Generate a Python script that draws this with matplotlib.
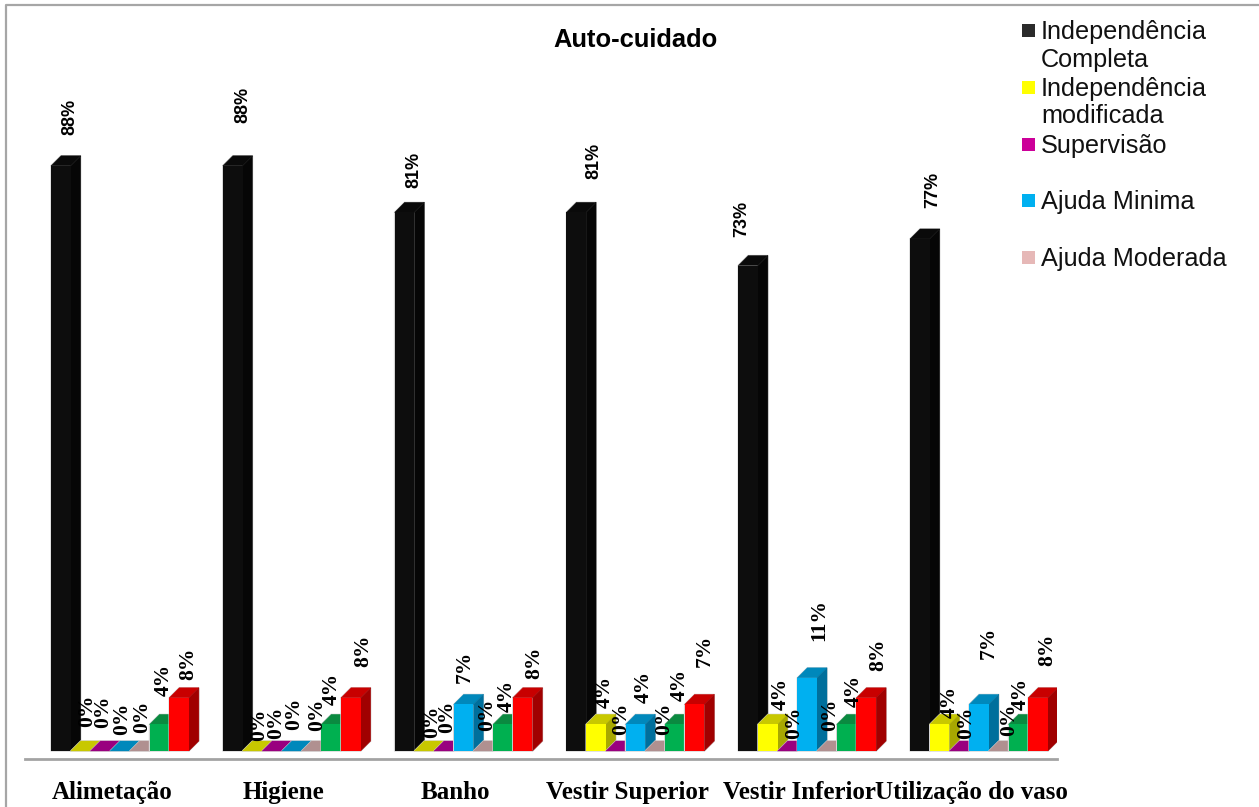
import numpy as np
from matplotlib import pyplot as plt
from matplotlib.lines import Line2D
from matplotlib.patches import Polygon, Rectangle
from matplotlib.transforms import Affine2D

W, H = 1259, 807

categorias = ["Alimetação", "Higiene", "Banho", "Vestir Superior", "Vestir Inferior", "Utilização do vaso"]

# percentages per level, one value per category
ind_completa = [88, 88, 81, 81, 73, 77]
ind_modificada = [0, 0, 0, 4, 4, 4]
supervisao = [0, 0, 0, 0, 0, 0]
ajuda_minima = [0, 0, 7, 4, 11, 7]
ajuda_moderada = [0, 0, 0, 0, 0, 0]
ajuda_maxima = [4, 4, 4, 4, 4, 4]
dependencia = [8, 8, 8, 7, 8, 8]

series = [ind_completa, ind_modificada, supervisao, ajuda_minima, ajuda_moderada, ajuda_maxima, dependencia]

legenda = ["Independência\nCompleta", "Independência\nmodificada", "Supervisão", "Ajuda Minima", "Ajuda Moderada"]
legenda_cores = ["#2b2b2b", "#ffff00", "#cc0099", "#00b0f0", "#e6b8b7"]

# front, top and side colour of each level
frente = ["#0d0d0d", "#ffff00", "#c00098", "#00b0f0", "#e6b8b7", "#00b050", "#ff0000"]
topo = ["#0a0a0a", "#c8c800", "#99007f", "#0088bb", "#b09090", "#0a8a40", "#c80000"]
lado = ["#060606", "#a8a800", "#7a0066", "#006f9c", "#8f7575", "#00783a", "#a00000"]

# where the value labels sit, in pixels: centre x and lower end
label_x = [
    [70, 243, 414, 594, 742, 933],
    [87, 259, 432, 605, 781, 950],
    [103.5, 276, 447, 621, 794, 966],
    [122, 294, 465, 644, 819, 989],
    [142, 317, 487, 664, 830, 1009],
    [164, 332, 507, 680, 854, 1021],
    [188, 363, 534, 705, 878, 1047],
]
label_y = [
    [135, 123, 188, 179, 237, 208],
    [727, 741, 738, 708, 710, 718],
    [728, 739, 733, 735, 739, 739],
    [735, 730, 683, 703, 641, 659],
    [733, 731, 731, 735, 731, 736],
    [696, 705, 712, 701, 707, 710],
    [680, 667, 679, 667, 671, 666],
]

PERIODO = 171.8
PX_POR_PCT = 6.65
BARRA = 19.7 / PERIODO
DX = 10 / PERIODO
DY = 10 / PX_POR_PCT

fig = plt.figure(figsize=(W / 100, H / 100), dpi=100)
px = Affine2D().scale(1 / W, -1 / H).translate(0, 1) + fig.transFigure

ax = fig.add_axes([25 / W, (H - 759) / H, (1057 - 25) / W, (759 - 5) / H])
ax.set_xlim((25 - 51) / PERIODO, (1057 - 51) / PERIODO)
ax.set_ylim(-8 / PX_POR_PCT, (751 - 5) / PX_POR_PCT)

grupos = np.arange(len(categorias))
for k, valores in enumerate(series):
    x = grupos + k * BARRA
    z = 2 + k
    for xi, v in zip(x, valores):
        # pale outline round the whole box, then top and side faces
        ax.add_patch(Polygon([(xi, 0), (xi + BARRA, 0), (xi + BARRA + DX, DY), (xi + BARRA + DX, v + DY),
                              (xi + DX, v + DY), (xi, v)],
                             facecolor="none", edgecolor="#d4d4d4", linewidth=1.0, zorder=z - 0.1))
        ax.add_patch(Polygon([(xi, v), (xi + BARRA, v), (xi + BARRA + DX, v + DY), (xi + DX, v + DY)],
                             facecolor=topo[k], edgecolor=topo[k], linewidth=0.3, zorder=z))
        if v > 0:
            ax.add_patch(Polygon([(xi + BARRA, 0), (xi + BARRA + DX, DY), (xi + BARRA + DX, v + DY), (xi + BARRA, v)],
                                 facecolor=lado[k], edgecolor=lado[k], linewidth=0.3, zorder=z))
    ax.bar(x, valores, width=BARRA, align="edge", color=frente[k], linewidth=0, zorder=z + 0.5)

for k, valores in enumerate(series):
    for g, v in enumerate(valores):
        if k == 0:
            fig.text(label_x[k][g], label_y[k][g], f"{v}%", transform=px, rotation=90, ha="center", va="bottom",
                     family="Liberation Sans", fontweight="bold", fontsize=13, zorder=20)
        else:
            fig.text(label_x[k][g], label_y[k][g], f"{v}%", transform=px, rotation=90, ha="center", va="bottom",
                     family="Liberation Serif", fontweight="bold", fontsize=15.5, zorder=20)

for s in ["top", "left", "right"]:
    ax.spines[s].set_visible(False)
ax.spines["bottom"].set_color("#a3a3a3")
ax.spines["bottom"].set_linewidth(2)
ax.set_yticks([])
ax.set_xticks(grupos + 61 / PERIODO)
ax.set_xticklabels(categorias, family="Liberation Serif", fontweight="bold", fontsize=18)
ax.tick_params(axis="x", length=0, pad=15.5)

# outer frame, open on the right and at the bottom
fig.add_artist(Line2D([6, 6, W], [H, 5, 5], transform=px, color="#a6a6a6", linewidth=1.6))

fig.text(635, 40, "Auto-cuidado", transform=px, ha="center", va="center",
         family="Liberation Sans", fontweight="bold", fontsize=18.4)

for i, (nome, cor) in enumerate(zip(legenda, legenda_cores)):
    y = 24 + i * 56.8
    fig.add_artist(Rectangle((1022, y), 13, 13, transform=px, facecolor=cor, edgecolor="none"))
    fig.text(1041, y - 4, nome, transform=px, ha="left", va="top", family="Liberation Sans",
             fontsize=18.2, linespacing=1.19, color="#111111")

fig.savefig("out.png", dpi=100)
